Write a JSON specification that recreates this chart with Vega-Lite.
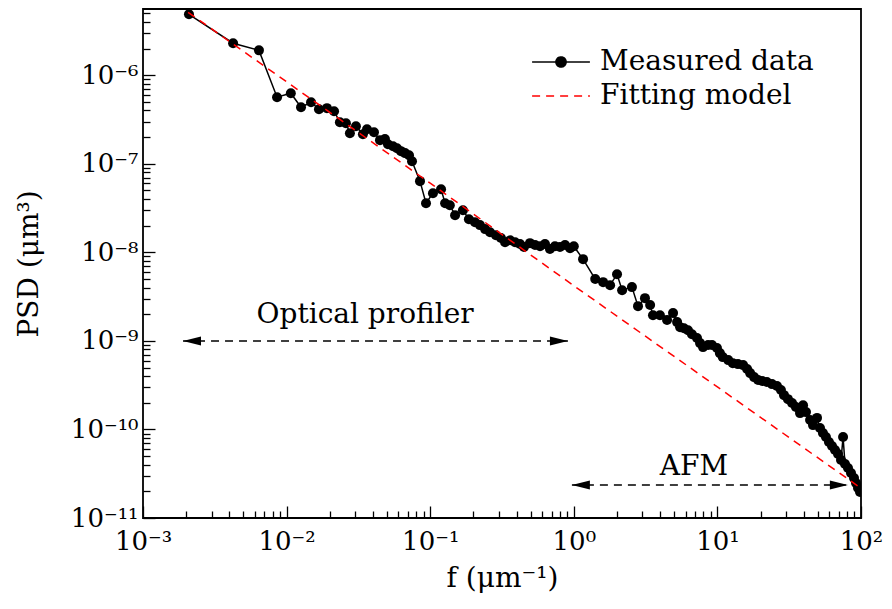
{
  "$schema": "https://vega.github.io/schema/vega-lite/v6.json",
  "width": 718,
  "height": 509,
  "autosize": {"type": "none"},
  "padding": {"left": 143, "top": 9, "right": 31, "bottom": 91},
  "background": "white",
  "config": {
    "view": {"stroke": "black", "strokeWidth": 1.8},
    "axis": {
      "domain": false, "grid": false,
      "labelFont": "DejaVu Serif", "labelFontSize": 26, "labelColor": "black",
      "titleFont": "DejaVu Serif", "titleFontSize": 28, "titleFontWeight": "normal", "titleColor": "black",
      "tickColor": "black", "tickWidth": 1.3, "labelOverlap": false, "labelFlush": false
    },
    "legend": {"labelFont": "DejaVu Serif", "labelFontSize": 28, "labelColor": "black"}
  },
  "datasets": {
    "measured": [
      {"f": 2.09e-3, "psd": 4.88e-6}, {"f": 4.24e-3, "psd": 2.30e-6}, {"f": 6.42e-3, "psd": 1.91e-6},
      {"f": 8.58e-3, "psd": 5.65e-7}, {"f": 1.07e-2, "psd": 6.27e-7}, {"f": 1.26e-2, "psd": 4.35e-7},
      {"f": 1.48e-2, "psd": 4.96e-7}, {"f": 1.68e-2, "psd": 4.13e-7}, {"f": 1.91e-2, "psd": 4.25e-7},
      {"f": 2.14e-2, "psd": 3.93e-7}, {"f": 2.35e-2, "psd": 2.95e-7}, {"f": 2.59e-2, "psd": 2.87e-7},
      {"f": 2.76e-2, "psd": 2.21e-7}, {"f": 3.04e-2, "psd": 2.66e-7}, {"f": 3.40e-2, "psd": 2.16e-7},
      {"f": 3.63e-2, "psd": 2.46e-7}, {"f": 4.06e-2, "psd": 2.27e-7}, {"f": 4.47e-2, "psd": 1.85e-7},
      {"f": 4.84e-2, "psd": 1.90e-7}, {"f": 5.08e-2, "psd": 1.66e-7}, {"f": 5.51e-2, "psd": 1.58e-7},
      {"f": 5.87e-2, "psd": 1.50e-7}, {"f": 6.26e-2, "psd": 1.39e-7}, {"f": 6.68e-2, "psd": 1.32e-7},
      {"f": 7.12e-2, "psd": 1.25e-7}, {"f": 7.47e-2, "psd": 1.07e-7}, {"f": 8.49e-2, "psd": 6.37e-8},
      {"f": 9.35e-2, "psd": 3.59e-8}, {"f": 1.045e-1, "psd": 4.66e-8}, {"f": 1.19e-1, "psd": 5.16e-8},
      {"f": 1.27e-1, "psd": 3.59e-8}, {"f": 1.37e-1, "psd": 3.41e-8}, {"f": 1.49e-1, "psd": 2.63e-8},
      {"f": 1.69e-1, "psd": 2.99e-8}, {"f": 1.86e-1, "psd": 2.37e-8}, {"f": 2.05e-1, "psd": 2.19e-8},
      {"f": 2.22e-1, "psd": 2.03e-8}, {"f": 2.41e-1, "psd": 1.83e-8}, {"f": 2.61e-1, "psd": 1.69e-8},
      {"f": 2.87e-1, "psd": 1.56e-8}, {"f": 3.11e-1, "psd": 1.45e-8}, {"f": 3.32e-1, "psd": 1.30e-8},
      {"f": 3.60e-1, "psd": 1.37e-8}, {"f": 3.90e-1, "psd": 1.30e-8}, {"f": 4.22e-1, "psd": 1.24e-8},
      {"f": 4.50e-1, "psd": 1.15e-8}, {"f": 4.95e-1, "psd": 1.27e-8}, {"f": 5.37e-1, "psd": 1.21e-8},
      {"f": 5.82e-1, "psd": 1.17e-8}, {"f": 6.30e-1, "psd": 1.24e-8}, {"f": 6.82e-1, "psd": 1.09e-8},
      {"f": 7.39e-1, "psd": 1.17e-8}, {"f": 8.01e-1, "psd": 1.15e-8}, {"f": 8.69e-1, "psd": 1.21e-8},
      {"f": 9.42e-1, "psd": 1.11e-8}, {"f": 1.00, "psd": 1.17e-8}, {"f": 1.16, "psd": 8.38e-9},
      {"f": 1.41, "psd": 4.99e-9}, {"f": 1.60, "psd": 4.61e-9}, {"f": 1.79, "psd": 4.26e-9},
      {"f": 2.00, "psd": 5.67e-9}, {"f": 2.17, "psd": 3.74e-9}, {"f": 2.54, "psd": 4.05e-9},
      {"f": 2.80, "psd": 2.47e-9}, {"f": 3.13, "psd": 3.04e-9}, {"f": 3.40, "psd": 2.54e-9},
      {"f": 3.56, "psd": 1.95e-9}, {"f": 3.98, "psd": 1.95e-9}, {"f": 4.46, "psd": 1.72e-9},
      {"f": 4.91, "psd": 2.06e-9}, {"f": 5.24, "psd": 1.63e-9}, {"f": 5.50, "psd": 1.43e-9},
      {"f": 5.85, "psd": 1.39e-9}, {"f": 6.24, "psd": 1.32e-9}, {"f": 6.65, "psd": 1.19e-9},
      {"f": 7.21, "psd": 1.08e-9}, {"f": 7.57, "psd": 9.44e-10}, {"f": 7.94, "psd": 8.51e-10},
      {"f": 8.61, "psd": 8.97e-10}, {"f": 9.17, "psd": 8.97e-10}, {"f": 9.93, "psd": 8.30e-10},
      {"f": 10.4, "psd": 7.28e-10}, {"f": 10.9, "psd": 6.56e-10}, {"f": 11.9, "psd": 6.07e-10},
      {"f": 12.8, "psd": 5.61e-10}, {"f": 13.9, "psd": 5.47e-10}, {"f": 15.1, "psd": 5.33e-10},
      {"f": 16.1, "psd": 4.81e-10}, {"f": 16.9, "psd": 4.33e-10}, {"f": 18.0, "psd": 3.90e-10},
      {"f": 19.2, "psd": 3.61e-10}, {"f": 20.5, "psd": 3.52e-10}, {"f": 22.1, "psd": 3.43e-10},
      {"f": 24.0, "psd": 3.25e-10}, {"f": 26.0, "psd": 3.09e-10}, {"f": 27.7, "psd": 2.79e-10},
      {"f": 29.1, "psd": 2.44e-10}, {"f": 31.0, "psd": 2.20e-10}, {"f": 33.1, "psd": 1.99e-10},
      {"f": 35.2, "psd": 1.79e-10}, {"f": 37.6, "psd": 1.53e-10}, {"f": 39.5, "psd": 1.88e-10},
      {"f": 41.4, "psd": 1.57e-10}, {"f": 44.2, "psd": 1.28e-10}, {"f": 46.3, "psd": 1.12e-10},
      {"f": 49.4, "psd": 1.35e-10}, {"f": 51.8, "psd": 1.04e-10}, {"f": 54.3, "psd": 9.10e-11},
      {"f": 57.0, "psd": 8.20e-11}, {"f": 59.8, "psd": 7.21e-11}, {"f": 62.8, "psd": 6.50e-11},
      {"f": 65.9, "psd": 5.85e-11}, {"f": 69.2, "psd": 5.28e-11}, {"f": 72.6, "psd": 4.51e-11},
      {"f": 75.0, "psd": 8.20e-11}, {"f": 77.4, "psd": 4.07e-11}, {"f": 81.2, "psd": 3.67e-11},
      {"f": 85.2, "psd": 3.22e-11}, {"f": 89.4, "psd": 2.83e-11}, {"f": 92.3, "psd": 2.48e-11},
      {"f": 95.3, "psd": 2.18e-11}, {"f": 98.4, "psd": 1.97e-11}
    ],
    "fit": [
      {"f": 2.06e-3, "psd": 5.14e-6}, {"f": 1e-2, "psd": 8.43e-7}, {"f": 1e-1, "psd": 6.04e-8},
      {"f": 1, "psd": 4.2e-9}, {"f": 10, "psd": 3.02e-10}, {"f": 100, "psd": 2.17e-11}
    ],
    "arrows": [
      {"range": "Optical profiler", "f": 1.9e-3, "psd": 1e-9},
      {"range": "Optical profiler", "f": 0.91, "psd": 1e-9},
      {"range": "AFM", "f": 0.97, "psd": 2.36e-11},
      {"range": "AFM", "f": 81, "psd": 2.36e-11}
    ],
    "headsLeft": [
      {"range": "Optical profiler", "f": 1.9e-3, "psd": 1e-9},
      {"range": "AFM", "f": 0.97, "psd": 2.36e-11}
    ],
    "headsRight": [
      {"range": "Optical profiler", "f": 0.91, "psd": 1e-9},
      {"range": "AFM", "f": 81, "psd": 2.36e-11}
    ],
    "notes": [
      {"label": "Optical profiler", "f": 3.52e-2, "psd": 1.59e-9},
      {"label": "AFM", "f": 6.87, "psd": 3.06e-11}
    ]
  },
  "encoding": {
    "x": {"field": "f", "type": "quantitative", "scale": {"type": "log", "domain": [1e-3, 100], "nice": false}, "axis": null},
    "y": {"field": "psd", "type": "quantitative", "scale": {"type": "log", "domain": [1e-11, 5.6e-6], "nice": false}, "axis": null}
  },
  "resolve": {"axis": {"x": "independent", "y": "independent"}},
  "layer": [
    {
      "data": {"name": "measured"},
      "mark": {"type": "line", "strokeWidth": 1.5, "clip": true},
      "encoding": {
        "x": {
          "field": "f", "type": "quantitative", "scale": {"type": "log", "domain": [1e-3, 100], "nice": false},
          "axis": {
            "orient": "bottom", "title": "f (μm⁻¹)",
            "values": [1e-3, 1e-2, 0.1, 1, 10, 100],
            "labelExpr": "['10⁻³','10⁻²','10⁻¹','10⁰','10¹','10²'][round(log(datum.value)/LN10)+3]",
            "offset": -12, "tickSize": 12, "labelPadding": 10, "titlePadding": 10
          }
        },
        "y": {
          "field": "psd", "type": "quantitative", "scale": {"type": "log", "domain": [1e-11, 5.6e-6], "nice": false},
          "axis": {
            "orient": "left", "title": "PSD (μm³)",
            "values": [1e-11, 1e-10, 1e-9, 1e-8, 1e-7, 1e-6],
            "labelExpr": "['10⁻¹¹','10⁻¹⁰','10⁻⁹','10⁻⁸','10⁻⁷','10⁻⁶'][round(log(datum.value)/LN10)+11]",
            "offset": -12, "tickSize": 12, "labelPadding": 5, "titlePadding": 27
          }
        },
        "color": {
          "datum": "Measured data", "type": "nominal",
          "scale": {"domain": ["Measured data", "Fitting model"], "range": ["#000000", "#ff0000"]},
          "legend": {
            "title": null, "orient": "none", "legendX": 404, "legendY": 39, "padding": 0,
            "symbolSize": 289, "labelOffset": 25, "rowPadding": 6, "labelLimit": 0,
            "encode": {
              "symbols": {
                "update": {
                  "shape": {"signal": "datum.value === 'Measured data' ? 'M-3.4,0L3.4,0M-0.6,0A0.6,0.6,0,1,1,0.6,0A0.6,0.6,0,1,1,-0.6,0Z' : 'M-3.4,0L3.4,0'"},
                  "fill": {"signal": "datum.value === 'Measured data' ? '#000000' : 'transparent'"},
                  "stroke": {"signal": "datum.value === 'Measured data' ? '#000000' : '#ff0000'"},
                  "strokeDash": {"signal": "datum.value === 'Measured data' ? [1,0] : [8,6]"},
                  "strokeWidth": {"value": 1.5},
                  "opacity": {"value": 1},
                  "size": {"value": 289}
                }
              }
            }
          }
        }
      }
    },
    {
      "data": {"name": "measured"},
      "mark": {"type": "point", "filled": true, "size": 100, "opacity": 1, "clip": true},
      "encoding": {"color": {"datum": "Measured data", "type": "nominal"}}
    },
    {
      "data": {"name": "fit"},
      "mark": {"type": "line", "strokeWidth": 1.5, "strokeDash": [8, 6], "clip": true},
      "encoding": {
        "x": {
          "field": "f", "type": "quantitative", "scale": {"type": "log", "domain": [1e-3, 100], "nice": false},
          "axis": {
            "orient": "bottom", "title": null, "labels": false,
            "values": [2e-3,3e-3,4e-3,5e-3,6e-3,7e-3,8e-3,9e-3,2e-2,3e-2,4e-2,5e-2,6e-2,7e-2,8e-2,9e-2,0.2,0.3,0.4,0.5,0.6,0.7,0.8,0.9,2,3,4,5,6,7,8,9,20,30,40,50,60,70,80,90],
            "offset": -7, "tickSize": 7
          }
        },
        "y": {
          "field": "psd", "type": "quantitative", "scale": {"type": "log", "domain": [1e-11, 5.6e-6], "nice": false},
          "axis": {
            "orient": "left", "title": null, "labels": false,
            "values": [2e-11,3e-11,4e-11,5e-11,6e-11,7e-11,8e-11,9e-11,2e-10,3e-10,4e-10,5e-10,6e-10,7e-10,8e-10,9e-10,2e-9,3e-9,4e-9,5e-9,6e-9,7e-9,8e-9,9e-9,2e-8,3e-8,4e-8,5e-8,6e-8,7e-8,8e-8,9e-8,2e-7,3e-7,4e-7,5e-7,6e-7,7e-7,8e-7,9e-7,2e-6,3e-6,4e-6,5e-6],
            "offset": -7, "tickSize": 7
          }
        },
        "color": {"datum": "Fitting model", "type": "nominal"}
      }
    },
    {
      "data": {"name": "arrows"},
      "mark": {"type": "line", "color": "black", "strokeWidth": 1.5, "strokeDash": [8, 6]},
      "encoding": {"detail": {"field": "range"}}
    },
    {
      "data": {"name": "headsLeft"},
      "mark": {"type": "point", "shape": "M0,0L2,-0.5L2,0.5Z", "size": 324, "filled": true, "color": "black", "opacity": 1}
    },
    {
      "data": {"name": "headsRight"},
      "mark": {"type": "point", "shape": "M0,0L-2,-0.5L-2,0.5Z", "size": 324, "filled": true, "color": "black", "opacity": 1}
    },
    {
      "data": {"name": "notes"},
      "mark": {"type": "text", "font": "DejaVu Serif", "fontSize": 28, "color": "black", "align": "center", "baseline": "alphabetic"},
      "encoding": {"text": {"field": "label"}}
    }
  ]
}
